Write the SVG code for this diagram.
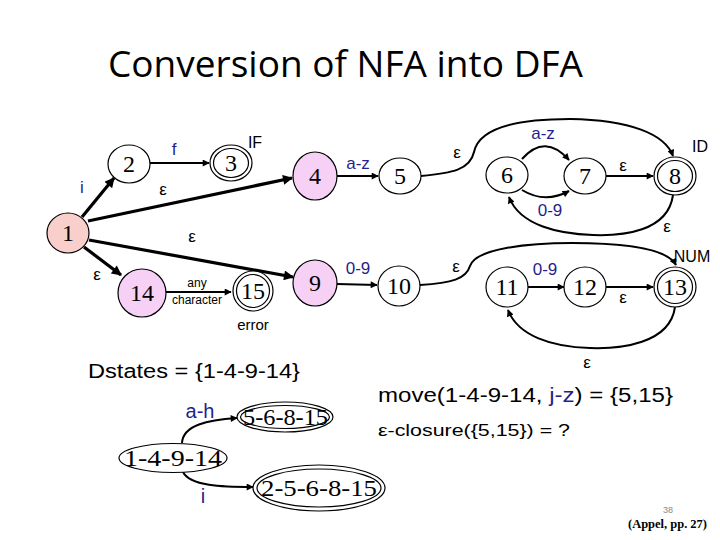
<svg xmlns="http://www.w3.org/2000/svg" width="720" height="540" viewBox="0 0 720 540">
<defs>
<marker id="ah" viewBox="0 0 10 10" refX="9" refY="5" markerWidth="9" markerHeight="7" markerUnits="userSpaceOnUse" orient="auto"><path d="M0,0 L10,5 L0,10 z" fill="#000"/></marker>
<marker id="ahb" viewBox="0 0 10 10" refX="9" refY="5" markerWidth="12" markerHeight="10" markerUnits="userSpaceOnUse" orient="auto"><path d="M0,0 L10,5 L0,10 z" fill="#000"/></marker>
<style>
.n{fill:#fff;stroke:#000;stroke-width:1.2}
.p{fill:#f7d0f5;stroke:#000;stroke-width:1.2}
.s{fill:#f9cfcb;stroke:#000;stroke-width:1.2}
.nt{font-family:"Liberation Serif",serif;font-size:24px;text-anchor:middle;fill:#000}
.dt{font-family:"Liberation Serif",serif;font-size:24px;fill:#000}
.e{fill:none;stroke:#000;stroke-width:2;marker-end:url(#ah)}
.eb{fill:none;stroke:#000;stroke-width:3.2;marker-end:url(#ahb)}
.lb{font-family:"Liberation Sans",Arial,sans-serif;font-size:17px;fill:#1f1f8f;text-anchor:middle}
.ep{font-family:"Liberation Sans",Arial,sans-serif;font-size:17px;fill:#000;text-anchor:middle}
.tk{font-family:"Liberation Sans",Arial,sans-serif;font-size:16px;fill:#000;text-anchor:middle}
</style>
</defs>
<rect width="720" height="540" fill="#fff"/>
<text x="108" y="77" font-family="'Open Sans',sans-serif" font-size="37" textLength="475" lengthAdjust="spacingAndGlyphs" fill="#000">Conversion of NFA into DFA</text>

<g id="connectors">
<line class="eb" x1="82" y1="217" x2="114" y2="178"/>
<line class="e" x1="150" y1="163" x2="209" y2="163"/>
<line class="eb" x1="88" y1="221" x2="292" y2="178"/>
<line class="eb" x1="89" y1="240" x2="293" y2="277"/>
<line class="eb" x1="84" y1="247" x2="121" y2="275"/>
<line class="e" x1="166" y1="292" x2="231" y2="292"/>
<line class="e" x1="337" y1="176" x2="378" y2="176"/>
<line class="e" x1="337" y1="284" x2="377" y2="285"/>
<path class="e" d="M421,176 C452,173 470,170 474,152 C480,124 530,119 570,119 C630,120 665,134 673,156"/>
<path class="e" d="M522,159 Q545,133 569,160"/>
<path class="e" d="M522,190 Q545,204 569,191"/>
<line class="e" x1="606" y1="176" x2="653" y2="176"/>
<path class="e" d="M673,195 C668,232 622,236 593,235 C560,234 520,226 509,197"/>
<path class="e" d="M420,285 C452,283 466,279 470,266 C476,248 530,243 572,243 C630,243 668,250 676,265"/>
<line class="e" x1="528" y1="287" x2="564" y2="287"/>
<line class="e" x1="606" y1="287" x2="653" y2="287"/>
<path class="e" d="M675,307 C670,344 620,349 590,348 C552,347 518,336 508,310"/>
<path class="e" d="M182,443 C183,425 208,420 237,418"/>
<path class="e" d="M183,472 C190,486 222,487 253,487"/>
</g>

<g id="edge-labels">
<text class="lb" x="82" y="193">i</text>
<text class="lb" x="174" y="155">f</text>
<text class="ep" x="163" y="195">ε</text>
<text class="ep" x="192" y="242">ε</text>
<text class="ep" x="97" y="280">ε</text>
<text x="197" y="287" font-family="'Liberation Sans',Arial,sans-serif" font-size="12" text-anchor="middle">any</text>
<text x="197" y="304" font-family="'Liberation Sans',Arial,sans-serif" font-size="12" text-anchor="middle">character</text>
<text class="lb" x="358" y="169">a-z</text>
<text class="lb" x="358" y="274">0-9</text>
<text class="ep" x="457" y="158">ε</text>
<text class="lb" x="543" y="139">a-z</text>
<text class="lb" x="550" y="216">0-9</text>
<text class="ep" x="623" y="171">ε</text>
<text class="ep" x="667" y="232">ε</text>
<text class="ep" x="456" y="272">ε</text>
<text class="lb" x="545" y="275">0-9</text>
<text class="ep" x="623" y="303">ε</text>
<text class="ep" x="587" y="368">ε</text>
<text x="200" y="418" font-family="'Liberation Sans',Arial,sans-serif" font-size="20" fill="#1f1f8f" text-anchor="middle">a-h</text>
<text x="203" y="503" font-family="'Liberation Sans',Arial,sans-serif" font-size="20" fill="#1f1f8f" text-anchor="middle">i</text>
</g>

<g id="n1"><ellipse class="s" cx="68" cy="233" rx="21" ry="20"/><text class="nt" x="68" y="241">1</text></g>
<g id="n2"><ellipse class="n" cx="129" cy="164" rx="21" ry="19"/><text class="nt" x="129" y="172">2</text></g>
<g id="n3"><ellipse class="n" cx="231" cy="163" rx="21" ry="18"/><ellipse class="n" cx="231" cy="163" rx="17.5" ry="14.5"/><text class="nt" x="231" y="171">3</text><text class="tk" x="255" y="148">IF</text></g>
<g id="n4"><ellipse class="p" cx="315" cy="176" rx="22" ry="24"/><text class="nt" x="315" y="184">4</text></g>
<g id="n5"><ellipse class="n" cx="400" cy="176" rx="21" ry="18"/><text class="nt" x="400" y="184">5</text></g>
<g id="n6"><ellipse class="n" cx="507" cy="175" rx="21" ry="18"/><text class="nt" x="507" y="183">6</text></g>
<g id="n7"><ellipse class="n" cx="585" cy="176" rx="21" ry="18"/><text class="nt" x="585" y="184">7</text></g>
<g id="n8"><ellipse class="n" cx="675" cy="176" rx="21" ry="19"/><ellipse class="n" cx="675" cy="176" rx="17.5" ry="15.5"/><text class="nt" x="675" y="184">8</text><text class="tk" x="700" y="152">ID</text></g>
<g id="n9"><ellipse class="p" cx="315" cy="283" rx="22" ry="23"/><text class="nt" x="315" y="291">9</text></g>
<g id="n10"><ellipse class="n" cx="399" cy="286" rx="21" ry="20"/><text class="nt" x="399" y="294">10</text></g>
<g id="n11"><ellipse class="n" cx="507" cy="287" rx="21" ry="20"/><text class="nt" x="507" y="295">11</text></g>
<g id="n12"><ellipse class="n" cx="585" cy="287" rx="21" ry="20"/><text class="nt" x="585" y="295">12</text></g>
<g id="n13"><ellipse class="n" cx="675" cy="287" rx="21" ry="20"/><ellipse class="n" cx="675" cy="287" rx="17.5" ry="16.5"/><text class="nt" x="675" y="295">13</text><text class="tk" x="692" y="262">NUM</text></g>
<g id="n14"><ellipse class="p" cx="142" cy="293" rx="24" ry="24"/><text class="nt" x="142" y="301">14</text></g>
<g id="n15"><ellipse class="n" cx="253" cy="291" rx="20" ry="20"/><ellipse class="n" cx="253" cy="291" rx="16.5" ry="16.5"/><text class="nt" x="253" y="299">15</text><text x="253" y="330" font-family="'Liberation Sans',Arial,sans-serif" font-size="15" text-anchor="middle">error</text></g>

<text x="88" y="378" font-family="'Liberation Sans',Arial,sans-serif" font-size="20" textLength="212" lengthAdjust="spacingAndGlyphs">Dstates = {1-4-9-14}</text>

<g id="d1"><ellipse class="n" cx="173" cy="458" rx="54" ry="14.5"/><text class="dt" x="124" y="466" textLength="98" lengthAdjust="spacingAndGlyphs">1-4-9-14</text></g>
<g id="d2"><ellipse class="n" cx="285" cy="417" rx="48" ry="15"/><ellipse class="n" cx="285" cy="417" rx="44.5" ry="11.5"/><text class="dt" x="243" y="425" textLength="85" lengthAdjust="spacingAndGlyphs">5-6-8-15</text></g>
<g id="d3"><ellipse class="n" cx="319" cy="488" rx="66" ry="23"/><ellipse class="n" cx="319" cy="488" rx="62" ry="19"/><text class="dt" x="261" y="496" textLength="116" lengthAdjust="spacingAndGlyphs">2-5-6-8-15</text></g>

<text x="378" y="402" font-family="'Liberation Sans',Arial,sans-serif" font-size="20" textLength="295" lengthAdjust="spacingAndGlyphs">move(1-4-9-14, <tspan fill="#1f1f8f">j-z</tspan>) = {5,15}</text>
<text x="378" y="436" font-family="'Liberation Sans',Arial,sans-serif" font-size="17" textLength="192" lengthAdjust="spacingAndGlyphs">ε-closure({5,15}) = ?</text>
<text x="668" y="513" font-family="'Liberation Sans',Arial,sans-serif" font-size="9" fill="#888" text-anchor="middle">38</text>
<text x="628" y="528" font-family="'Liberation Serif',serif" font-size="13" font-weight="bold" textLength="79" lengthAdjust="spacingAndGlyphs">(Appel, pp. 27)</text>
</svg>
